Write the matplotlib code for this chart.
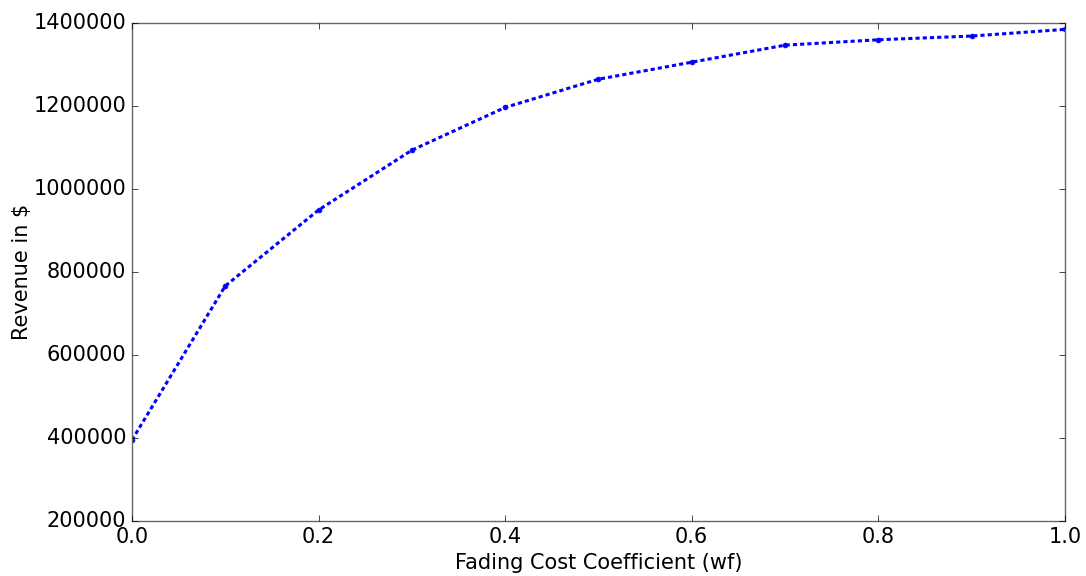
import matplotlib
matplotlib.use("Agg")
import matplotlib.pyplot as plt

plt.style.use("classic")

# Fading cost coefficient vs revenue
wf = [0.0, 0.1, 0.2, 0.3, 0.4, 0.5, 0.6, 0.7, 0.8, 0.9, 1.0]
revenue = [395000, 766000, 949000, 1093000, 1196000, 1264000,
           1305000, 1346000, 1359000, 1368000, 1384000]

fig = plt.figure(figsize=(10.86, 5.76), dpi=100)
fig.patch.set_facecolor("white")
ax = fig.add_axes([0.1215, 0.0955, 0.859, 0.865])

line, = ax.plot(wf, revenue, color="b", marker="o",
                markersize=3.5, linewidth=2.2, markeredgecolor="b")
line.set_dashes([3.0, 2.2])

ax.set_xlim(0, 1.0)
ax.set_ylim(200000, 1400000)
ax.ticklabel_format(style="plain", useOffset=False)

ax.set_xlabel("Fading Cost Coefficient (wf)", fontsize=15)
ax.set_ylabel("Revenue in $", fontsize=15, labelpad=1)
ax.tick_params(labelsize=15)
for s in ax.spines.values():
    s.set_color("0.4")

fig.savefig("out.png", dpi=100, facecolor="white")
